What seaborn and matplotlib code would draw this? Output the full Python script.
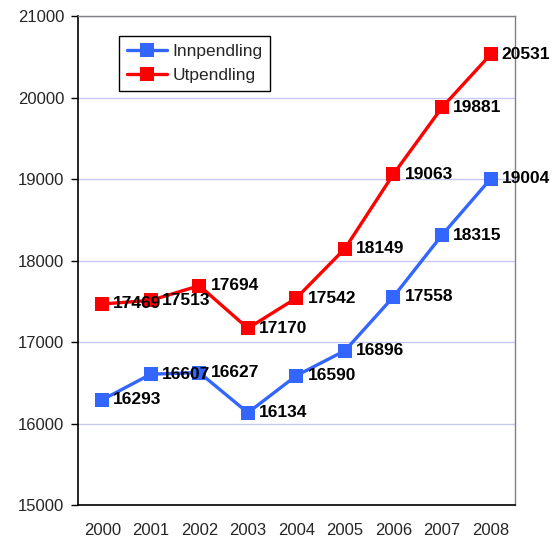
import matplotlib
matplotlib.use("Agg")
import matplotlib.pyplot as plt
import seaborn as sns
import pandas as pd
from matplotlib.ticker import FixedLocator

years = ["2000", "2001", "2002", "2003", "2004", "2005", "2006", "2007", "2008"]
innpendling = [16293, 16607, 16627, 16134, 16590, 16896, 17558, 18315, 19004]
utpendling = [17469, 17513, 17694, 17170, 17542, 18149, 19063, 19881, 20531]
series_names = ["Innpendling", "Utpendling"]
colors = ["#3366FF", "#FF0000"]

sns.set_style("white")
plt.rcParams['font.family'] = ['Liberation Sans', 'DejaVu Sans']

rows = []
for name, vals in zip(series_names, [innpendling, utpendling]):
    for i, (y, v) in enumerate(zip(years, vals)):
        rows.append({"idx": i, "year": y, "value": v, "series": name})
df = pd.DataFrame(rows)

fig = plt.figure(figsize=(5.53, 5.42), dpi=100)
ax = fig.add_axes([0.141, 0.068, 0.790, 0.902])

sns.lineplot(data=df, x="idx", y="value", hue="series", palette=colors,
             marker="s", markersize=9.5, markeredgewidth=0, linewidth=2.4,
             ax=ax, legend=True)

for name, vals in zip(series_names, [innpendling, utpendling]):
    for i, v in enumerate(vals):
        ax.annotate(str(v), (i, v), xytext=(8, 0), textcoords="offset points",
                    ha="left", va="center", fontsize=12.5, fontweight="bold",
                    color="black", zorder=5)

ax.set_xlim(-0.5, 8.5)
ax.set_ylim(15000, 21000)
ax.set_yticks(range(15000, 21001, 1000))
ax.set_xticks(range(len(years)))
ax.set_xticklabels(years)
ax.xaxis.set_minor_locator(FixedLocator([i - 0.5 for i in range(len(years) + 1)]))
ax.tick_params(axis="x", which="major", length=0, labelsize=12, pad=13)
ax.tick_params(axis="x", which="minor", length=5, width=1, color="black", direction="out")
ax.tick_params(axis="y", length=5, width=1, color="black", labelsize=12, direction="out", left=True, pad=5)
ax.set_xlabel("")
ax.set_ylabel("")
ax.grid(axis="y", color="#C8C8F0", linewidth=1)
ax.set_axisbelow(True)

for s in ["left", "bottom"]:
    ax.spines[s].set_color("black")
    ax.spines[s].set_linewidth(1.2)
for s in ["top", "right"]:
    ax.spines[s].set_color("#808080")
    ax.spines[s].set_linewidth(1)

leg = ax.legend(loc="upper left", bbox_to_anchor=(0.095, 0.96), fontsize=12.5,
                frameon=True, fancybox=False, edgecolor="black", framealpha=1,
                handlelength=2.3, handletextpad=0.3, borderpad=0.45, labelspacing=0.55,
                borderaxespad=0)
leg.get_frame().set_linewidth(1)

fig.savefig("out.png", dpi=100)
